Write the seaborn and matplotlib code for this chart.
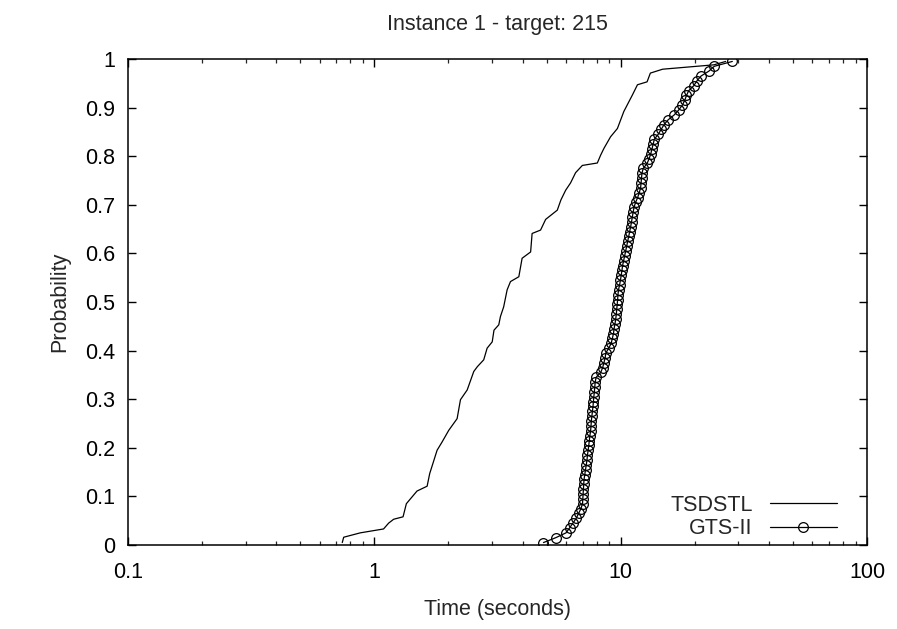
import numpy as np
import pandas as pd
import matplotlib
matplotlib.use("Agg")
import matplotlib.pyplot as plt
import seaborn as sns
from matplotlib.ticker import LogLocator, NullFormatter, FixedLocator

# ---------------- data ----------------
title_text = "Instance 1 - target: 215"
series_names = ["TSDSTL", "GTS-II"]

tsdstl_time = [0.741, 0.751, 0.877, 1.09, 1.143, 1.198, 1.308, 1.349, 1.49, 1.638,
               1.678, 1.798, 1.884, 2.005, 2.168, 2.237, 2.382, 2.533, 2.62, 2.78,
               2.87, 3.01, 3.06, 3.20, 3.25, 3.35, 3.46, 3.57, 3.86, 3.98,
               4.31, 4.37, 4.73, 4.96, 5.53, 5.72, 5.98, 6.26, 6.56, 6.99,
               8.04, 8.29, 8.55, 9.1, 9.7, 10.3, 11.16, 11.7, 12.8, 13.2,
               14.8, 23.9, 26.7]
tsdstl_prob = [0.005, 0.016, 0.025, 0.033, 0.045, 0.053, 0.058, 0.085, 0.111, 0.121,
               0.147, 0.195, 0.212, 0.236, 0.260, 0.299, 0.319, 0.357, 0.367, 0.381,
               0.405, 0.418, 0.442, 0.453, 0.470, 0.490, 0.525, 0.542, 0.552, 0.590,
               0.603, 0.641, 0.648, 0.670, 0.689, 0.710, 0.730, 0.745, 0.766, 0.781,
               0.786, 0.802, 0.816, 0.840, 0.857, 0.892, 0.926, 0.947, 0.953, 0.971,
               0.979, 0.988, 0.995]

gts_time = [4.86, 5.45, 6.0, 6.2, 6.4, 6.6, 6.75, 6.9, 7.0, 7.02,
            7.04, 7.06, 7.08, 7.1, 7.15, 7.2, 7.25, 7.3, 7.33, 7.38,
            7.42, 7.46, 7.5, 7.55, 7.58, 7.6, 7.64, 7.68, 7.72, 7.75,
            7.78, 7.82, 7.85, 7.88, 7.95, 8.3, 8.45, 8.55, 8.65, 8.7,
            8.95, 9.15, 9.25, 9.35, 9.4, 9.48, 9.55, 9.6, 9.64, 9.68,
            9.72, 9.75, 9.8, 9.9, 9.98, 10.05, 10.12, 10.18, 10.28, 10.38,
            10.48, 10.58, 10.68, 10.78, 10.88, 10.98, 11.07, 11.15, 11.24, 11.33,
            11.5, 11.72, 11.9, 12.05, 12.1, 12.15, 12.2, 12.35, 12.8, 13.05,
            13.25, 13.4, 13.55, 13.7, 14.2, 14.6, 15.0, 15.6, 16.5, 17.2,
            17.8, 18.2, 18.5, 18.9, 19.8, 20.4, 21.2, 22.8, 24.0, 28.4]
gts_prob = [0.005, 0.015, 0.025, 0.035, 0.045, 0.055, 0.065, 0.075, 0.085, 0.095,
            0.105, 0.115, 0.125, 0.135, 0.145, 0.155, 0.165, 0.175, 0.185, 0.195,
            0.205, 0.215, 0.225, 0.235, 0.245, 0.255, 0.265, 0.275, 0.285, 0.295,
            0.305, 0.315, 0.325, 0.335, 0.345, 0.355, 0.365, 0.375, 0.385, 0.395,
            0.405, 0.415, 0.425, 0.435, 0.445, 0.455, 0.465, 0.475, 0.485, 0.495,
            0.505, 0.515, 0.525, 0.535, 0.545, 0.555, 0.565, 0.575, 0.585, 0.595,
            0.605, 0.615, 0.625, 0.635, 0.645, 0.655, 0.665, 0.675, 0.685, 0.695,
            0.705, 0.715, 0.725, 0.735, 0.745, 0.755, 0.765, 0.775, 0.785, 0.795,
            0.805, 0.815, 0.825, 0.835, 0.845, 0.855, 0.865, 0.875, 0.885, 0.895,
            0.905, 0.915, 0.925, 0.935, 0.945, 0.955, 0.965, 0.975, 0.985, 0.995]

x_ticks = [0.1, 1, 10, 100]
x_ticklabels = ["0.1", "1", "10", "100"]
y_ticks = [0, 0.1, 0.2, 0.3, 0.4, 0.5, 0.6, 0.7, 0.8, 0.9, 1]
y_ticklabels = ["0", "0.1", "0.2", "0.3", "0.4", "0.5", "0.6", "0.7", "0.8", "0.9", "1"]

# ---------------- style ----------------
sns.set_style("ticks")
plt.rcParams["font.family"] = ["Liberation Sans", "DejaVu Sans"]
FS = 15.5

fig = plt.figure(figsize=(8.97, 6.29), dpi=100)
ax = fig.add_axes([128 / 897, 1 - 545 / 629, (867 - 128) / 897, (545 - 59) / 629])

df_t = pd.DataFrame({"time": tsdstl_time, "prob": tsdstl_prob})
df_g = pd.DataFrame({"time": gts_time, "prob": gts_prob})

sns.lineplot(data=df_t, x="time", y="prob", ax=ax, sort=False, estimator=None,
             color="black", lw=0.9, label=series_names[0])
sns.lineplot(data=df_g, x="time", y="prob", ax=ax, sort=False, estimator=None,
             color="black", lw=0.9, marker="o", markersize=7.0,
             markerfacecolor="none", markeredgecolor="black", markeredgewidth=0.9,
             label=series_names[1])

ax.set_xscale("log")
ax.set_xlim(0.1, 100)
ax.set_ylim(0, 1)
ax.xaxis.set_major_locator(FixedLocator(x_ticks))
ax.set_xticklabels(x_ticklabels)
ax.xaxis.set_minor_locator(LogLocator(base=10, subs=np.arange(2, 10)))
ax.xaxis.set_minor_formatter(NullFormatter())
ax.set_yticks(y_ticks)
ax.set_yticklabels(y_ticklabels)

ax.tick_params(which="major", direction="in", length=6, width=1.0,
               top=True, right=True, labelsize=FS, colors="black")
ax.tick_params(axis="x", which="major", pad=12)
ax.tick_params(axis="y", which="major", pad=9)
ax.tick_params(which="minor", direction="in", length=3, width=0.9,
               top=True, right=True)
for s in ax.spines.values():
    s.set_visible(True)
    s.set_linewidth(1.1)
    s.set_color("black")

ax.set_title(title_text, fontsize=FS, pad=21)
ax.set_xlabel("Time (seconds)", fontsize=FS, labelpad=12)
ax.set_ylabel("Probability", fontsize=FS, labelpad=11)

# markerfirst=False right-aligns each legend row (text, then sample line)
ax.legend(loc="lower right", bbox_to_anchor=(0.959, 0.012),
          frameon=False, fontsize=FS, markerfirst=False,
          handlelength=3.1, handletextpad=0.8, labelspacing=0.12,
          borderpad=0, borderaxespad=0)

fig.savefig("out.png", dpi=100)
